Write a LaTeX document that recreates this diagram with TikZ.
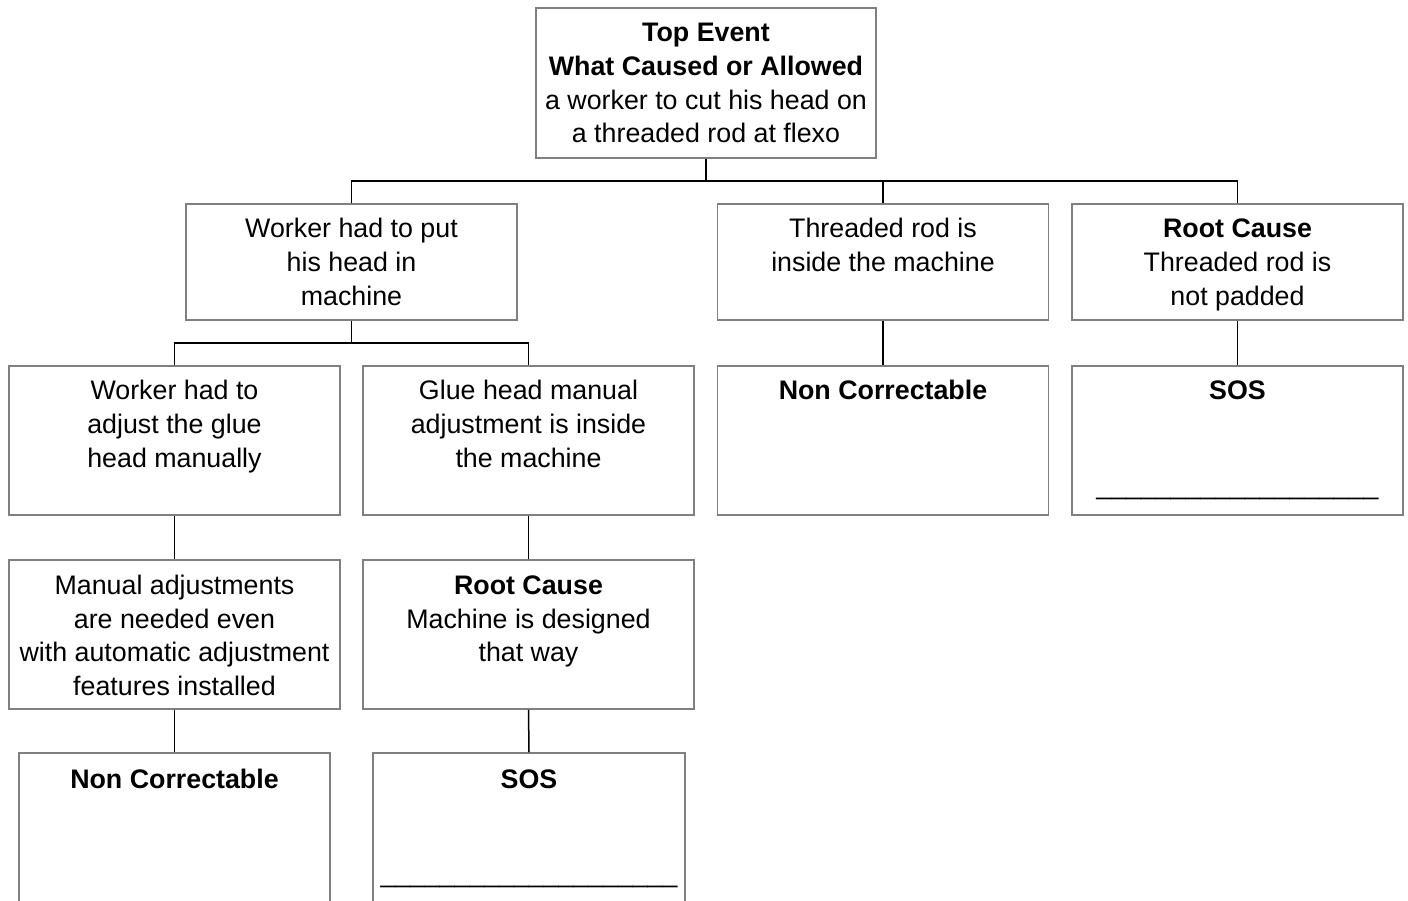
\documentclass[tikz,border=0pt]{standalone}
\usepackage{fontspec}
\setmainfont{Liberation Sans}
\begin{document}
\begin{tikzpicture}[x=1pt,y=-1pt,
  box/.style={draw=black!50, line width=1.5pt, rectangle, inner sep=0pt, fill=white},
  wide/.style={box, minimum width=331pt},
  lbl/.style={anchor=north, align=center, inner sep=0pt, font=\fontsize{26.8}{33.6}\selectfont},
  bar/.style={anchor=base, inner sep=0pt, font=\fontsize{26.7}{33.3}\selectfont},
  wire/.style={draw=black, line width=1.5pt}]
\useasboundingbox (0,0) rectangle (1408,901);
\clip (0,0) rectangle (1408,901);
\fill[white] (0,0) rectangle (1408,901);
% boxes
\node[box, minimum width=340pt, minimum height=150pt] (top) at (706,83) {};
\node[wide, minimum height=116pt] (A) at (351.5,262) {};
\node[wide, minimum height=116pt] (B) at (883,262) {};
\node[wide, minimum height=116pt] (C) at (1237.5,262) {};
\node[wide, minimum height=149pt] (D) at (174.5,440.5) {};
\node[wide, minimum height=149pt] (E) at (528.5,440.5) {};
\node[wide, minimum height=149pt] (F) at (883,440.5) {};
\node[wide, minimum height=149pt] (G) at (1237.5,440.5) {};
\node[wide, minimum height=149pt] (H) at (174.5,634.5) {};
\node[wide, minimum height=149pt] (I) at (528.5,634.5) {};
\node[box, minimum width=311pt, minimum height=160pt] (J) at (174.5,833) {};
\node[box, minimum width=312pt, minimum height=160pt] (K) at (529,833) {};
% connectors
\coordinate (j1) at (706,181);
\coordinate (j2) at (351,343);
\draw[wire] (top.south) -- (j1);
\draw[wire] (A.north) |- (j1) -| (C.north);
\draw[wire] (B.north) -- (B.north |- j1);
\draw[wire] (A.south) -- (A.south |- j2);
\draw[wire] (D.north) |- (j2) -| (E.north);
\draw[wire] (B.south) -- (F.north);
\draw[wire] (C.south) -- (G.north);
\draw[wire] (D.south) -- (H.north);
\draw[wire] (E.south) -- (I.north);
\draw[wire] (H.south) -- (J.north);
\draw[wire] (I.south) -- (K.north);
% texts
\node[lbl] (ttop) at ([yshift=-11pt]top.north) {\strut\textbf{Top Event}\\\textbf{What Caused or Allowed}\\a worker to cut his head on\\a threaded rod at flexo};
\node[lbl] (tA) at ([yshift=-11pt]A.north) {\strut Worker had to put\\his head in\\machine};
\node[lbl] (tB) at ([yshift=-11pt]B.north) {\strut Threaded rod is\\inside the machine};
\node[lbl] (tC) at ([yshift=-11pt]C.north) {\strut\textbf{Root Cause}\\Threaded rod is\\not padded};
\node[lbl] (tD) at ([yshift=-11pt]D.north) {\strut Worker had to\\adjust the glue\\head manually};
\node[lbl] (tE) at ([yshift=-11pt]E.north) {\strut Glue head manual\\adjustment is inside\\the machine};
\node[lbl] (tF) at ([yshift=-11pt]F.north) {\strut\textbf{Non Correctable}};
\node[lbl] (tG) at ([yshift=-11pt]G.north) {\strut\textbf{SOS}};
\node[bar] (uG) at ([yshift=-129pt]G.north) {\_\_\_\_\_\_\_\_\_\_\_\_\_\_\_\_\_\_\_};
\node[lbl] (tH) at ([yshift=-11.5pt]H.north) {\strut Manual adjustments\\are needed even\\with automatic adjustment\\features installed};
\node[lbl] (tI) at ([yshift=-11.5pt]I.north) {\strut\textbf{Root Cause}\\Machine is designed\\that way};
\node[lbl] (tJ) at ([yshift=-12.5pt]J.north) {\strut\textbf{Non Correctable}};
\node[lbl] (tK) at ([yshift=-12.5pt]K.north) {\strut\textbf{SOS}};
\node[bar] (uK) at ([yshift=-130pt]K.north) {\_\_\_\_\_\_\_\_\_\_\_\_\_\_\_\_\_\_\_\_};
\end{tikzpicture}
\end{document}
